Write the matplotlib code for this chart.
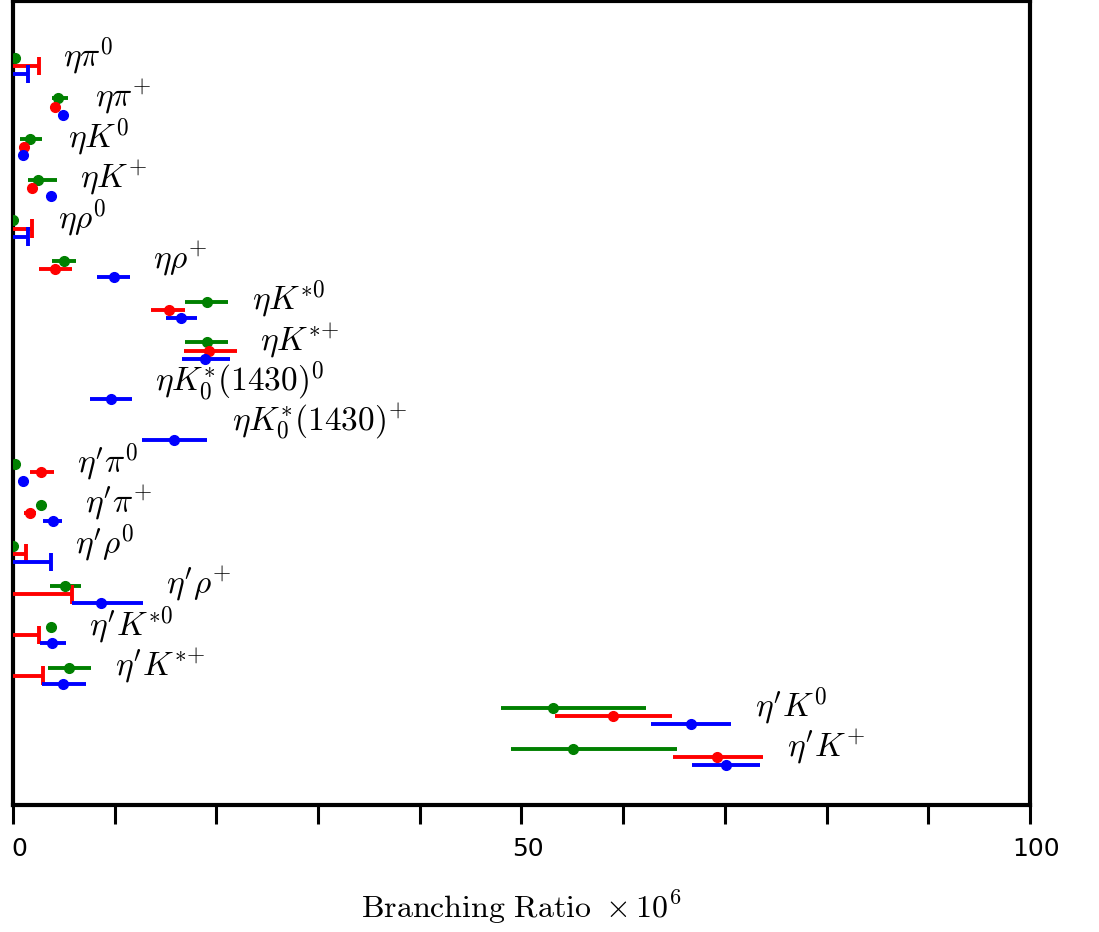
import matplotlib.pyplot as plt
import matplotlib.transforms as mtransforms
import numpy as np

plt.rcParams['mathtext.fontset'] = 'cm'

# decay modes (top to bottom)
labels = [r'$\eta\pi^0$', r'$\eta\pi^{{+}}$', r'$\eta K^0$', r'$\eta K^{{+}}$',
          r'$\eta\rho^0$', r'$\eta\rho^{{+}}$', r'$\eta K^{*0}$', r'$\eta K^{*{+}}$',
          r'$\eta K_0^{*}(1430)^0$', r'$\eta K_0^{*}(1430)^{{+}}$',
          r"$\eta'\pi^0$", r"$\eta'\pi^{{+}}$", r"$\eta'\rho^0$", r"$\eta'\rho^{{+}}$",
          r"$\eta' K^{*0}$", r"$\eta' K^{*{+}}$", r"$\eta' K^0$", r"$\eta' K^{{+}}$"]

# green series: value, low, high (nan = absent)
g_val = [0.2, 4.4, 1.7, 2.5, 0.05, 5.0, 19.1, 19.1, np.nan, np.nan,
         0.2, 2.75, 0.05, 5.1, 3.7, 5.5, 53.1, 55.1]
g_lo = [0.2, 3.8, 0.7, 1.5, 0.05, 3.8, 16.9, 16.9, np.nan, np.nan,
        0.2, 2.75, 0.05, 3.6, 3.7, 3.4, 48.0, 49.0]
g_hi = [0.2, 5.4, 2.9, 4.3, 0.05, 6.2, 21.1, 21.1, np.nan, np.nan,
        0.2, 2.75, 0.05, 6.7, 3.7, 7.7, 62.2, 65.3]

# red series (upper limits where r_ul is set)
r_val = [np.nan, 4.1, 1.1, 1.9, np.nan, 4.1, 15.3, 19.3, np.nan, np.nan,
         2.8, 1.7, np.nan, np.nan, np.nan, np.nan, 59.0, 69.2]
r_lo = [np.nan, 3.9, 0.9, 1.7, np.nan, 2.6, 13.6, 16.8, np.nan, np.nan,
        1.7, 1.1, np.nan, np.nan, np.nan, np.nan, 53.3, 64.9]
r_hi = [np.nan, 4.3, 1.3, 2.1, np.nan, 5.8, 16.9, 22.0, np.nan, np.nan,
        4.0, 2.3, np.nan, np.nan, np.nan, np.nan, 64.8, 73.7]
r_ul = [2.55, np.nan, np.nan, np.nan, 1.9, np.nan, np.nan, np.nan, np.nan, np.nan,
        np.nan, np.nan, 1.3, 5.8, 2.6, 3.0, np.nan, np.nan]

# blue series
b_val = [np.nan, 4.9, 0.95, 3.7, np.nan, 9.9, 16.5, 18.9, 9.6, 15.8,
         0.95, 3.9, np.nan, 8.7, 3.8, 4.9, 66.7, 70.1]
b_lo = [np.nan, 4.5, 0.6, 3.7, np.nan, 8.3, 15.0, 16.6, 7.6, 12.7,
        0.95, 3.0, np.nan, 5.8, 2.7, 2.9, 62.7, 66.8]
b_hi = [np.nan, 5.3, 1.3, 3.7, np.nan, 11.5, 18.1, 21.3, 11.7, 19.1,
        0.95, 4.8, np.nan, 12.8, 5.2, 7.2, 70.6, 73.5]
b_ul = [1.5, np.nan, np.nan, np.nan, 1.5, np.nan, np.nan, np.nan, np.nan, np.nan,
        np.nan, np.nan, 3.7, np.nan, np.nan, np.nan, np.nan, np.nan]

# label anchor x positions (data units)
lab_x = [4.9, 8.1, 5.4, 6.6, 4.4, 13.8, 23.5, 24.3, 14.0, 21.5,
         6.3, 7.1, 6.1, 15.0, 7.5, 10.0, 73.0, 76.1]

fig = plt.figure(figsize=(10.99, 9.32), dpi=100)
ax = fig.add_axes([0.0118, 0.1363, 0.9254, 0.8627])

n = len(labels)
y = np.arange(n)
offs = {'green': 0.0, 'red': 0.2, 'blue': 0.4}

def draw(val, lo, hi, ul, color):
    val = np.array(val, float)
    lo = np.array(lo, float)
    hi = np.array(hi, float)
    yy = y + offs[color]
    m = ~np.isnan(val)
    ax.errorbar(val[m], yy[m], xerr=[val[m] - lo[m], hi[m] - val[m]],
                fmt='o', color=color, ms=7, lw=2.8, capsize=0, zorder=3)
    if ul is not None:
        ul = np.array(ul, float)
        k = ~np.isnan(ul)
        ax.hlines(yy[k], 0, ul[k], color=color, lw=2.8, zorder=3)
        ax.vlines(ul[k], yy[k] - 0.23, yy[k] + 0.23, color=color, lw=2.8, zorder=3)

draw(g_val, g_lo, g_hi, None, 'green')
draw(r_val, r_lo, r_hi, r_ul, 'red')
draw(b_val, b_lo, b_hi, b_ul, 'blue')

for i in range(n):
    ax.text(lab_x[i], y[i] - 0.05, labels[i], fontsize=24, ha='left', va='center')

ax.set_xlim(0, 100)
ax.set_ylim(18.38, -1.40)
ax.set_yticks([])
ax.set_xticks(np.arange(0, 101, 10))
ax.set_xticklabels(['0', '', '', '', '', '50', '', '', '', '', '100'],
                   family=['Liberation Sans Narrow', 'DejaVu Sans'], fontsize=18)
ax.tick_params(axis='x', direction='out', length=14, width=2.2, pad=9)
shift = mtransforms.ScaledTranslation(6 / 100, 0, fig.dpi_scale_trans)
for lbl in ax.get_xticklabels():
    lbl.set_transform(lbl.get_transform() + shift)
for s in ax.spines.values():
    s.set_linewidth(3)
ax.set_xlabel(r'$\mathrm{Branching\ Ratio}\ \times 10^6$', fontsize=23,
              labelpad=20)

fig.savefig('out.png', dpi=100)
